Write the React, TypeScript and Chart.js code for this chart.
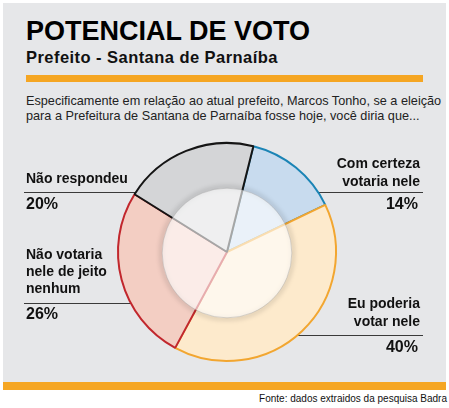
import React, { useEffect, useRef } from "react";
import { Chart, registerables } from "chart.js";

Chart.register(...registerables);

const categories = ["Com certeza votaria nele", "Eu poderia votar nele", "Não votaria nele de jeito nenhum", "Não respondeu"];
const values = [14, 40, 26, 20];
const fillColors = ["#C8DBEE", "#FDEACC", "#F3CEC3", "#D4D5D7"];
const borderColors = ["#1B84B5", "#F2A630", "#C1272D", "#151515"];

const FONT = '"Liberation Sans", Arial, Helvetica, sans-serif';

const innerCircle = {
  id: "innerCircle",
  afterDatasetsDraw(chart: any) {
    const meta = chart.getDatasetMeta(0);
    const arc = meta.data[0];
    if (!arc) return;
    const { x, y, outerRadius } = arc.getProps(["x", "y", "outerRadius"], true);
    const r = outerRadius * 0.595;
    const ctx = chart.ctx;
    ctx.save();
    ctx.filter = "blur(2px)";
    ctx.beginPath();
    ctx.arc(x, y + 1, r + 1, 0, Math.PI * 2);
    ctx.strokeStyle = "rgba(0,0,0,0.12)";
    ctx.lineWidth = 4;
    ctx.stroke();
    ctx.filter = "none";
    ctx.beginPath();
    ctx.arc(x, y + 1, r, 0, Math.PI * 2);
    ctx.fillStyle = "rgba(255,255,255,0.62)";
    ctx.fill();
    ctx.strokeStyle = "rgba(160,160,160,0.4)";
    ctx.lineWidth = 1;
    ctx.stroke();
    ctx.restore();
  },
};

function Txt(props: { x: number; base: number; size: number; bold?: boolean; right?: boolean; children: any; color?: string; ls?: number }) {
  const { x, base, size, bold, right, children, color, ls } = props;
  const top = base - 0.8465 * size;
  const style: any = {
    position: "absolute",
    top,
    fontFamily: FONT,
    fontSize: size,
    lineHeight: size + "px",
    fontWeight: bold ? 700 : 400,
    color: color || "#111",
    whiteSpace: "nowrap",
    letterSpacing: ls ? ls + "px" : undefined,
  };
  if (right) style.right = 449 - x;
  else style.left = x;
  return <div style={style}>{children}</div>;
}

function Line(props: { x1: number; x2: number; y: number }) {
  return (
    <div
      style={{
        position: "absolute",
        left: props.x1,
        top: props.y,
        width: props.x2 - props.x1,
        height: 1,
        background: "#3a3a3a",
      }}
    />
  );
}

export default function App() {
  const ref = useRef<HTMLCanvasElement>(null);
  useEffect(() => {
    if (!ref.current) return;
    const chart = new Chart(ref.current, {
      type: "pie",
      data: {
        labels: categories,
        datasets: [
          {
            data: values,
            backgroundColor: fillColors,
            borderColor: borderColors,
            borderWidth: 2,
          },
        ],
      },
      options: {
        responsive: false,
        animation: false,
        rotation: 14,
        radius: 109,
        layout: { padding: 0 },
        plugins: { legend: { display: false }, tooltip: { enabled: false } },
      },
      plugins: [innerCircle],
    });
    return () => chart.destroy();
  }, []);

  return (
    <div style={{ position: "absolute", left: 0, top: 0, width: 449, height: 408, background: "#fff", overflow: "hidden" }}>
      <div style={{ position: "absolute", left: 3, top: 3, width: 443, height: 379, background: "#E6E7E9" }} />
      <div style={{ position: "absolute", left: 3, top: 382, width: 443, height: 8, background: "#F5A623" }} />
      <div style={{ position: "absolute", left: 26, top: 75, width: 397, height: 7, background: "#F5A623" }} />

      <Txt x={26} base={40.4} size={27} bold color="#000">POTENCIAL DE VOTO</Txt>
      <Txt x={26} base={63.3} size={16.5} bold ls={0.45} color="#111">Prefeito - Santana de Parnaíba</Txt>
      <Txt x={26} base={106} size={12.7} color="#222">Especificamente em relação ao atual prefeito, Marcos Tonho, se a eleição</Txt>
      <Txt x={26} base={121} size={12.7} color="#222">para a Prefeitura de Santana de Parnaíba fosse hoje, você diria que...</Txt>

      <Line x1={24} x2={150} y={192} />
      <Line x1={24} x2={145} y={303} />
      <Line x1={305} x2={423} y={192} />
      <Line x1={285} x2={423} y={335} />

      <canvas ref={ref} width={240} height={240} style={{ position: "absolute", left: 107, top: 132, width: 240, height: 240 }} />

      <Txt x={26} base={183} size={14} bold>Não respondeu</Txt>
      <Txt x={26} base={210} size={16} bold>20%</Txt>
      <Txt x={26} base={259} size={14} bold>Não votaria</Txt>
      <Txt x={26} base={276} size={14} bold>nele de jeito</Txt>
      <Txt x={26} base={293} size={14} bold>nenhum</Txt>
      <Txt x={26} base={320} size={16} bold>26%</Txt>

      <Txt x={420} base={168} size={14} bold right>Com certeza</Txt>
      <Txt x={420} base={186} size={14} bold right>votaria nele</Txt>
      <Txt x={418} base={210} size={16} bold right>14%</Txt>
      <Txt x={420} base={308} size={14} bold right>Eu poderia</Txt>
      <Txt x={420} base={326} size={14} bold right>votar nele</Txt>
      <Txt x={418} base={353} size={16} bold right>40%</Txt>

      <Txt x={447} base={402} size={10} right color="#111">Fonte: dados extraidos da pesquisa Badra</Txt>
    </div>
  );
}
